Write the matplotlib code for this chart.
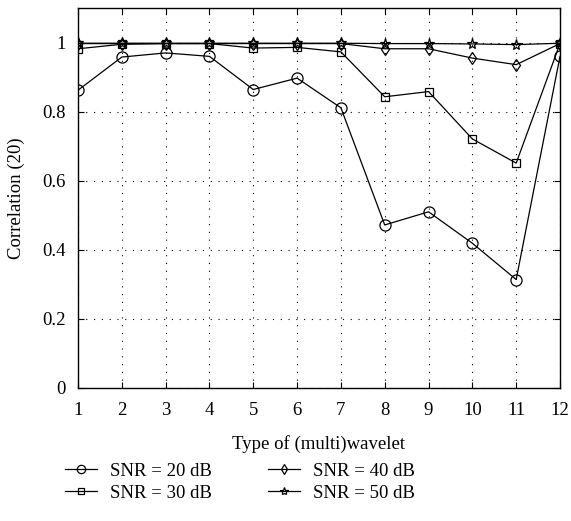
import matplotlib.pyplot as plt
import numpy as np

# Data
wavelet_types = np.arange(1, 13)
snr_20 = [0.862, 0.958, 0.970, 0.960, 0.864, 0.897, 0.811, 0.472, 0.510, 0.419, 0.314, 0.960]
snr_30 = [0.982, 0.995, 0.997, 0.997, 0.984, 0.986, 0.973, 0.843, 0.858, 0.721, 0.651, 0.997]
snr_40 = [0.997, 0.997, 0.997, 0.997, 0.997, 0.997, 0.997, 0.982, 0.982, 0.955, 0.936, 0.997]
snr_50 = [0.998, 0.998, 0.998, 0.998, 0.998, 0.998, 0.998, 0.997, 0.997, 0.996, 0.994, 0.998]
labels = ['SNR = 20 dB', 'SNR = 30 dB', 'SNR = 40 dB', 'SNR = 50 dB']
markers = ['o', 's', 'd', '*']
msizes = [8, 5.5, 6.5, 8]

plt.rcParams['font.family'] = ['Liberation Serif', 'DejaVu Serif']
plt.rcParams['font.size'] = 13.5

fig = plt.figure(figsize=(5.71, 5.21), dpi=100)
ax = fig.add_axes([78 / 571, 1 - 388 / 521, (560 - 78) / 571, (388 - 8) / 521])

for vals, lab, m, ms in zip([snr_20, snr_30, snr_40, snr_50], labels, markers, msizes):
    ax.plot(wavelet_types, vals, color='black', linewidth=0.9, marker=m,
            markersize=ms, markerfacecolor='none', markeredgecolor='black',
            markeredgewidth=0.9, label=lab)

ax.set_xlim(1, 12)
ax.set_ylim(0, 1.1)
ax.set_xticks(wavelet_types)
ax.set_yticks([0, 0.2, 0.4, 0.6, 0.8, 1])
ax.set_yticklabels(['0', '0.2', '0.4', '0.6', '0.8', '1'])
ax.tick_params(direction='in', top=True, right=True, length=4, width=0.8)
ax.tick_params(axis='x', pad=10)
ax.tick_params(axis='y', pad=9)
ax.grid(True, color='black', linestyle=(0, (1, 6)), linewidth=0.8)
for s in ax.spines.values():
    s.set_linewidth(1.0)

ax.set_xlabel('Type of (multi)wavelet', labelpad=12)
ax.set_ylabel('Correlation (20)', labelpad=12)

fig.legend(loc='upper center', bbox_to_anchor=(0.42, 1 - 446 / 521), ncol=2,
           frameon=False, handlelength=1.7, handletextpad=0.7, columnspacing=3.0,
           labelspacing=0.25, markerscale=0.75, fontsize=13.5)

fig.savefig('out.png', dpi=100)
